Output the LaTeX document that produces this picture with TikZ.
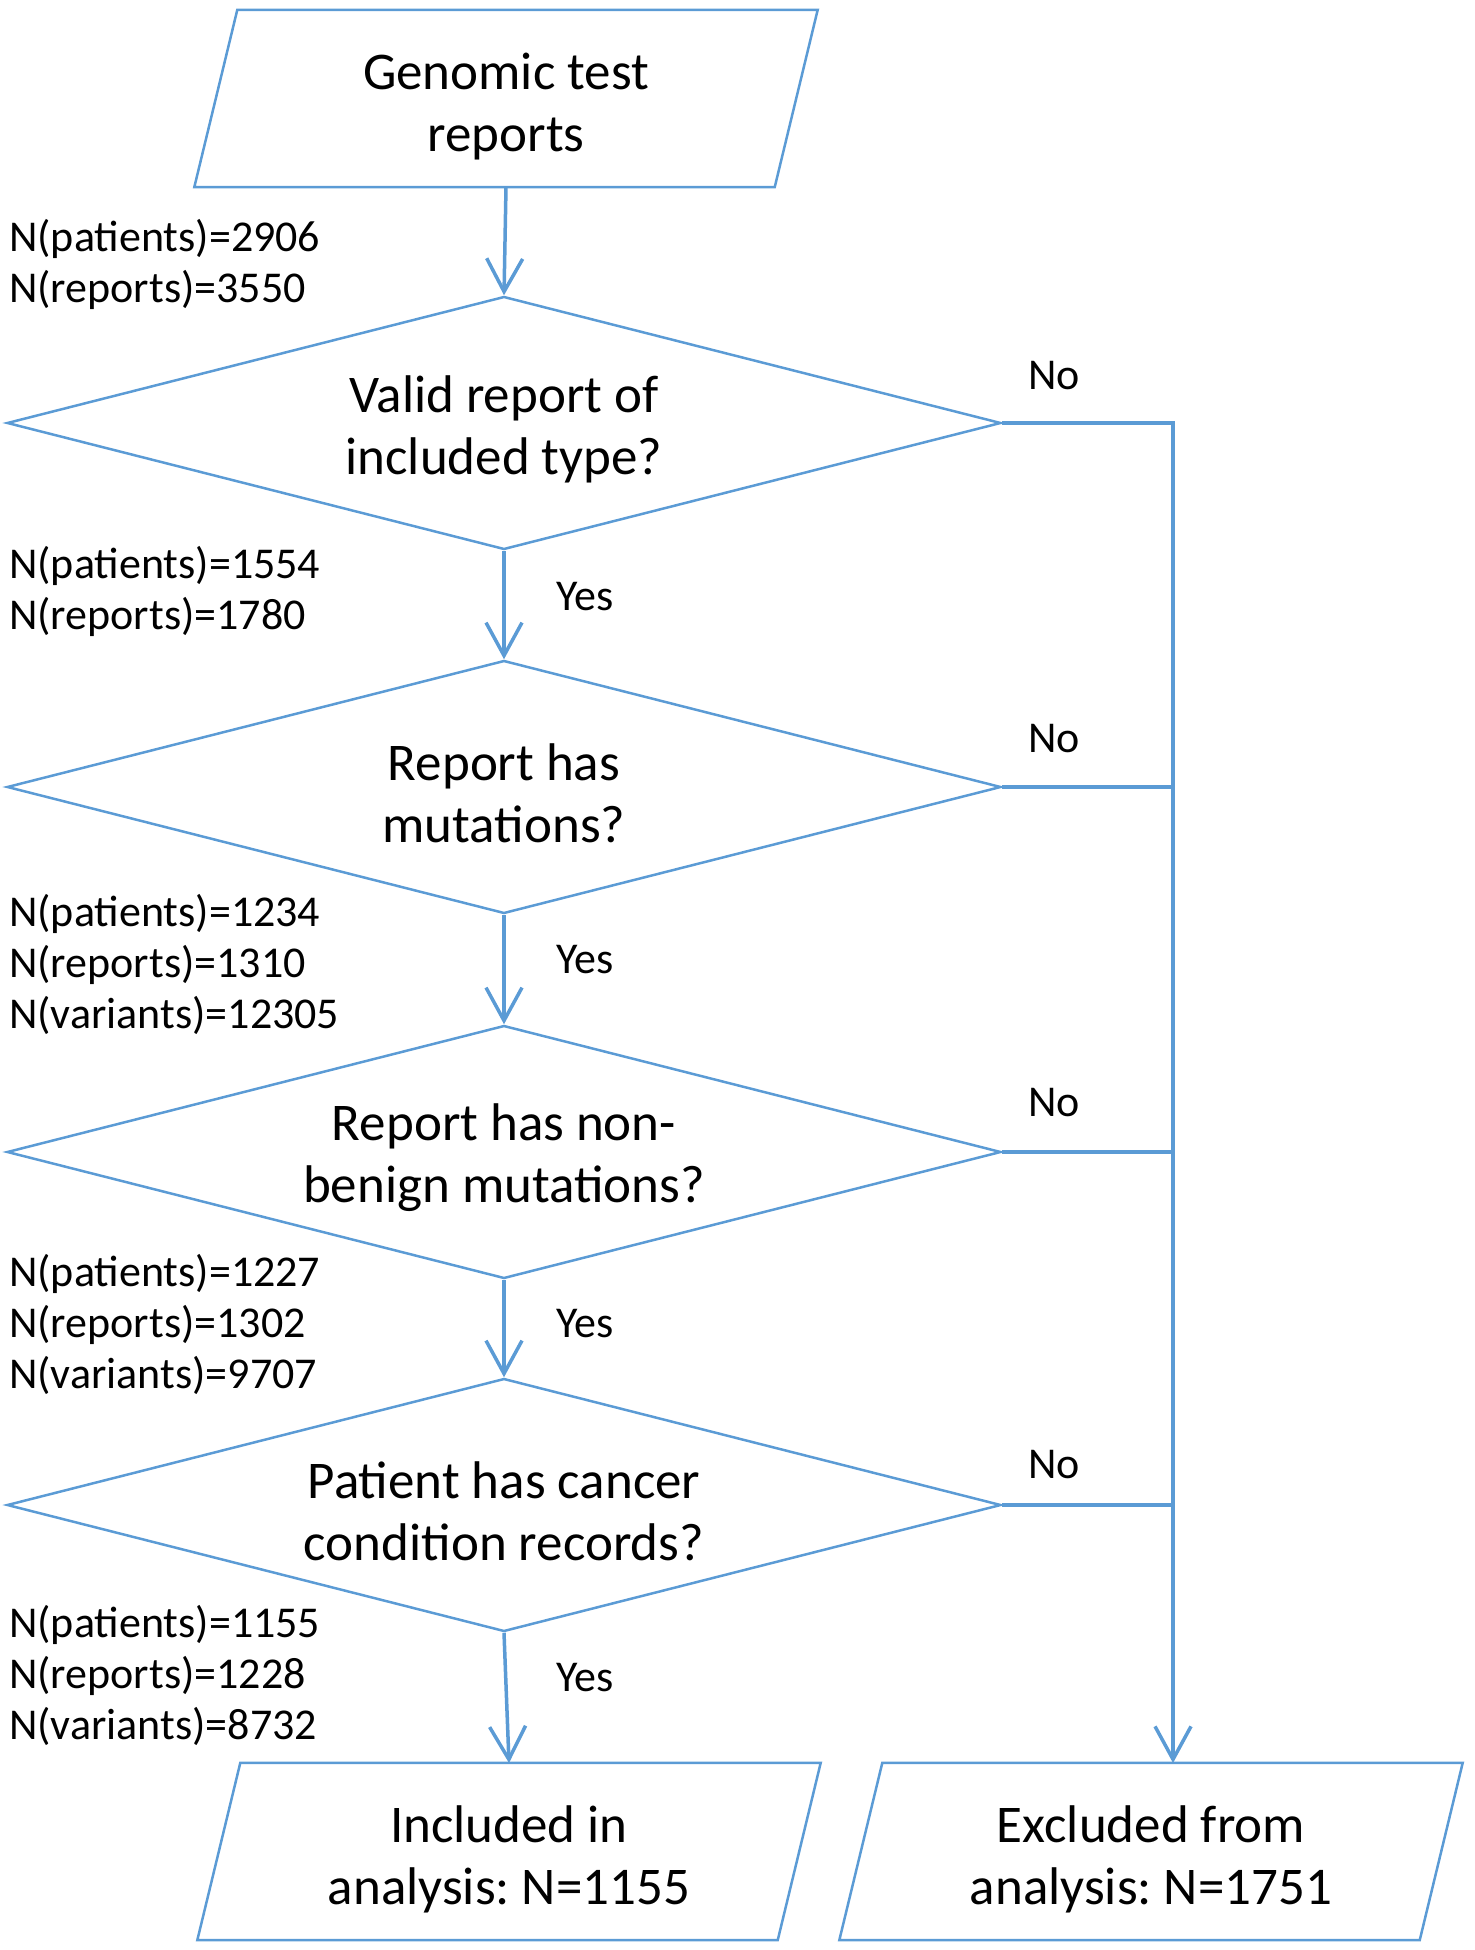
\documentclass[tikz,border=0pt]{standalone}
\usepackage{fontspec}
\setmainfont{Carlito}
\frenchspacing
\usetikzlibrary{shapes.geometric,arrows.meta}
\definecolor{lineblue}{RGB}{91,155,213}
\tikzset{
  shapeline/.style={draw=lineblue, line width=2.5pt, line join=miter},
  dtext/.style={inner sep=0pt, align=center, font=\fontsize{53}{62}\selectfont, yshift=-6pt},
  decision/.style={diamond, shapeline, minimum width=994pt, minimum height=253pt, aspect=3.93, inner sep=0pt,
    label={[dtext]center:#1}},
  iobox/.style={rectangle, minimum width=580pt, minimum height=177pt, inner sep=0pt, align=center, font=\fontsize{53}{62}\selectfont},
  countlbl/.style={anchor=west, inner sep=0pt, align=left, font=\fontsize{44}{51}\selectfont},
  branchlbl/.style={inner sep=0pt, font=\fontsize{44}{51}\selectfont},
  flow/.style={draw=lineblue, line width=3.5pt, -{Straight Barb[length=33pt,width=36pt]}},
  noline/.style={draw=lineblue, line width=3.5pt}
}
% parallelogram outline drawn 8pt above the text node's centre
\newcommand\pgram[1]{\draw[shapeline] ([xshift=21.5pt,yshift=8pt]#1.north west) -- ([xshift=21.5pt,yshift=8pt]#1.north east) -- ([xshift=-21.5pt,yshift=8pt]#1.south east) -- ([xshift=-21.5pt,yshift=8pt]#1.south west) -- cycle;}
\begin{document}
\begin{tikzpicture}[x=1pt,y=-1pt]
\useasboundingbox (0,0) rectangle (1474,1950);
\node[iobox] (in) at (506,106.5) {Genomic test\\reports};
\pgram{in}
\coordinate (inbot) at (506,187);
\node[decision={Valid report of\\included type?}] (d1) at (504,423) {};
\node[decision={Report has\\mutations?}] (d2) at (504,787) {};
\node[decision={Report has non-\\benign mutations?}] (d3) at (504,1152) {};
\node[decision={Patient has cancer\\condition records?}] (d4) at (504,1505) {};
\node[iobox] (inc) at (509,1859.5) {Included in\\analysis: N=1155};
\pgram{inc}
\coordinate (inctop) at (509,1763);
\node[iobox] (exc) at (1151,1859.5) {Excluded from\\analysis: N=1751};
\pgram{exc}
\coordinate (exctop) at (1151,1763);

\node[countlbl] (c0) at (9,264) {N(patients)=2906\\N(reports)=3550};
\node[countlbl] (c1) at (9,591) {N(patients)=1554\\N(reports)=1780};
\node[countlbl] (c2) at (9,964) {N(patients)=1234\\N(reports)=1310\\N(variants)=12305};
\node[countlbl] (c3) at (9,1324) {N(patients)=1227\\N(reports)=1302\\N(variants)=9707};
\node[countlbl] (c4) at (9,1675) {N(patients)=1155\\N(reports)=1228\\N(variants)=8732};

\node[branchlbl] (y1) at (585,597) {Yes};
\node[branchlbl] (y2) at (585,960) {Yes};
\node[branchlbl] (y3) at (585,1324) {Yes};
\node[branchlbl] (y4) at (585,1678) {Yes};
\node[branchlbl] (n1) at (1054,376) {No};
\node[branchlbl] (n2) at (1054,739) {No};
\node[branchlbl] (n3) at (1054,1103) {No};
\node[branchlbl] (n4) at (1054,1465) {No};

\draw[flow] (inbot) -- (d1.north);
\draw[flow] (d1.south) -- (d2.north);
\draw[flow] (d2.south) -- (d3.north);
\draw[flow] (d3.south) -- (d4.north);
\draw[flow] (d4.south) -- (inctop);

\coordinate (rail) at (1173,423);
\draw[noline] (d2.east) -- (d2.east -| rail);
\draw[noline] (d3.east) -- (d3.east -| rail);
\draw[noline] (d4.east) -- (d4.east -| rail);
\draw[flow] (d1.east) -- (rail) -- (rail |- exctop);
\end{tikzpicture}
\end{document}
